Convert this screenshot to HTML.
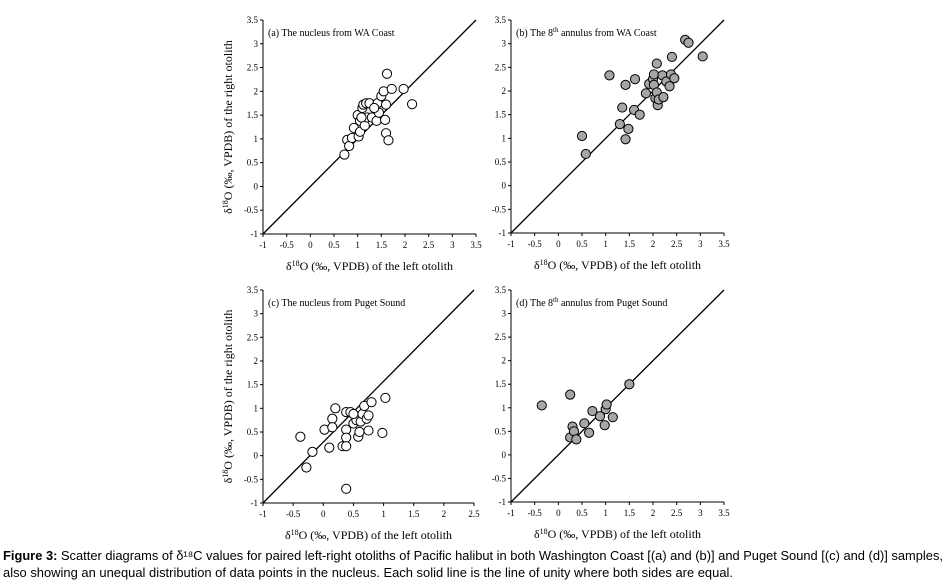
<!DOCTYPE html>
<html><head><meta charset="utf-8"><style>
html,body{margin:0;padding:0;background:#fff;}
svg{display:block;}
text{font-family:"Liberation Serif",serif;fill:#000;}
.cap{font-family:"Liberation Sans Narrow","Liberation Sans",sans-serif;font-size:13px;}
</style></head><body>
<svg id="fig" width="948" height="586" viewBox="0 0 948 586">
<g id="panels"></g>
<text class="cap" x="3" y="560" textLength="940" lengthAdjust="spacingAndGlyphs"><tspan font-weight="bold">Figure 3:</tspan> Scatter diagrams of δ¹⁸C values for paired left-right otoliths of Pacific halibut in both Washington Coast [(a) and (b)] and Puget Sound [(c) and (d)] samples,</text>
<text class="cap" x="3" y="577" textLength="730" lengthAdjust="spacingAndGlyphs">also showing an unequal distribution of data points in the nucleus. Each solid line is the line of unity where both sides are equal.</text>
</svg>
<script>
const xA=[0.72,0.78,0.82,0.88,0.92,1.0,1.02,1.05,1.05,1.1,1.12,1.15,1.18,1.2,1.25,1.3,1.4,1.42,1.45,1.5,1.55,1.58,1.6,1.62,1.6,1.65,1.72,1.97,2.15,1.35,1.08];
const yA=[0.67,0.98,0.85,1.02,1.23,1.5,1.05,1.15,1.38,1.65,1.72,1.28,1.75,1.45,1.75,1.45,1.38,1.75,1.55,1.9,2.0,1.4,1.72,2.37,1.12,0.97,2.05,2.05,1.73,1.65,1.45];
const xB=[0.5,0.58,1.08,1.3,1.35,1.42,1.42,1.48,1.6,1.62,1.72,1.85,1.92,2.0,2.02,2.02,2.05,2.08,2.08,2.1,2.12,2.2,2.22,2.28,2.35,2.38,2.4,2.45,2.68,2.75,3.05];
const yB=[1.05,0.67,2.33,1.3,1.65,2.13,0.98,1.2,1.6,2.25,1.5,1.95,2.15,2.25,2.35,2.13,1.85,2.58,1.97,1.7,1.82,2.33,1.87,2.2,2.1,2.35,2.72,2.27,3.08,3.02,2.73];
const xC=[-0.38,-0.28,-0.18,0.02,0.1,0.15,0.15,0.2,0.32,0.38,0.38,0.38,0.38,0.38,0.45,0.5,0.55,0.58,0.6,0.62,0.65,0.68,0.72,0.75,0.75,0.8,0.98,1.03,0.5];
const yC=[0.4,-0.25,0.08,0.55,0.17,0.78,0.6,1.0,0.2,0.92,0.55,0.38,0.2,-0.7,0.92,0.68,0.75,0.4,0.5,0.72,0.88,1.05,0.78,0.85,0.53,1.13,0.48,1.22,0.88];
const xD=[-0.35,0.25,0.25,0.3,0.33,0.38,0.55,0.65,0.72,0.88,0.98,1.0,1.02,1.15,1.5];
const yD=[1.05,1.28,0.37,0.6,0.5,0.33,0.67,0.47,0.93,0.82,0.63,0.97,1.07,0.8,1.5];
const yTicks=[-1,-0.5,0,0.5,1,1.5,2,2.5,3,3.5];
const xTicksWide=[-1,-0.5,0,0.5,1,1.5,2,2.5,3,3.5];
const xTicksC=[-1,-0.5,0,0.5,1,1.5,2,2.5];
const titles=["(a) The nucleus from WA Coast","(b) The 8|th| annulus from WA Coast","(c) The nucleus from Puget Sound","(d) The 8|th| annulus from Puget Sound"];

const NS="http://www.w3.org/2000/svg";
const root=document.getElementById('panels');
function mk(tag,attrs,parent){const e=document.createElementNS(NS,tag);for(const k in attrs)e.setAttribute(k,attrs[k]);parent.appendChild(e);return e;}

const panels=[
 {id:'a',L:263,R:476,T:20,B:234,xmax:3.5,xt:xTicksWide,xs:xA,ys:yA,fill:'#fff',ylab:true},
 {id:'b',L:511,R:724,T:20,B:233,xmax:3.5,xt:xTicksWide,xs:xB,ys:yB,fill:'#a6a6a6',ylab:false},
 {id:'c',L:263,R:474,T:290,B:503,xmax:2.5,xt:xTicksC,xs:xC,ys:yC,fill:'#fff',ylab:true},
 {id:'d',L:511,R:724,T:290,B:502,xmax:3.5,xt:xTicksWide,xs:xD,ys:yD,fill:'#a6a6a6',ylab:false}
];
panels.forEach((p,i)=>{
  const g=mk('g',{},root);
  
  
  const sx=v=>p.L+(v+1)/(p.xmax+1)*(p.R-p.L);
  const sy=v=>p.B-(v+1)/4.5*(p.B-p.T);
  const ax=mk('path',{d:`M${p.L},${p.T}V${p.B}H${p.R}`,stroke:'#000','stroke-width':1,fill:'none'},g);
  
  
  yTicks.forEach(t=>{
    const y=sy(t);
    mk('line',{x1:p.L-3,x2:p.L,y1:y,y2:y,stroke:'#000'},g);
    const tx=mk('text',{x:p.L-5,y:y+3,'font-size':9,'text-anchor':'end'},g);
    tx.textContent=String(t);
    
    
  });
  p.xt.forEach(t=>{
    const x=sx(t);
    mk('line',{x1:x,x2:x,y1:p.B,y2:p.B+3,stroke:'#000'},g);
    const tx=mk('text',{x:x,y:p.B+14,'font-size':9,'text-anchor':'middle'},g);
    tx.textContent=String(t);
    
    
  });
  const ln=mk('line',{x1:p.L,y1:p.B,x2:p.R,y2:p.T,stroke:'#000','stroke-width':1.3},g);
  
  
  const parts=titles[i].split('|');
  const tt=mk('text',{x:p.L+5,y:p.T+16,'font-size':10},g);
  
  
  if(parts.length===1){tt.textContent=parts[0];}
  else{
    mk('tspan',{},tt).textContent=parts[0];
    const s=mk('tspan',{dy:-4,'font-size':7},tt);s.textContent=parts[1];
    mk('tspan',{dy:4},tt).textContent=parts[2];
  }
  const xl=mk('text',{x:(p.L+p.R)/2,y:p.B+36,'font-size':12,'text-anchor':'middle'},g);
  
  
  mk('tspan',{},xl).textContent='δ';
  mk('tspan',{dy:-4,'font-size':8},xl).textContent='18';
  mk('tspan',{dy:4},xl).textContent='O (‰, VPDB) of the left otolith';
  if(p.ylab){
    const cy=(p.T+p.B)/2;
    const yl=mk('text',{x:0,y:0,'font-size':12,'text-anchor':'middle',transform:`translate(${p.L-31},${cy}) rotate(-90)`},g);
    
    
    mk('tspan',{},yl).textContent='δ';
    mk('tspan',{dy:-4,'font-size':8},yl).textContent='18';
    mk('tspan',{dy:4},yl).textContent='O (‰, VPDB) of the right otolith';
  }
  p.xs.forEach((v,k)=>{
    const c=mk('circle',{cx:sx(v),cy:sy(p.ys[k]),r:4.6,fill:p.fill,stroke:'#000','stroke-width':1},g);
    
    
  });
});
</script>
</body></html>
